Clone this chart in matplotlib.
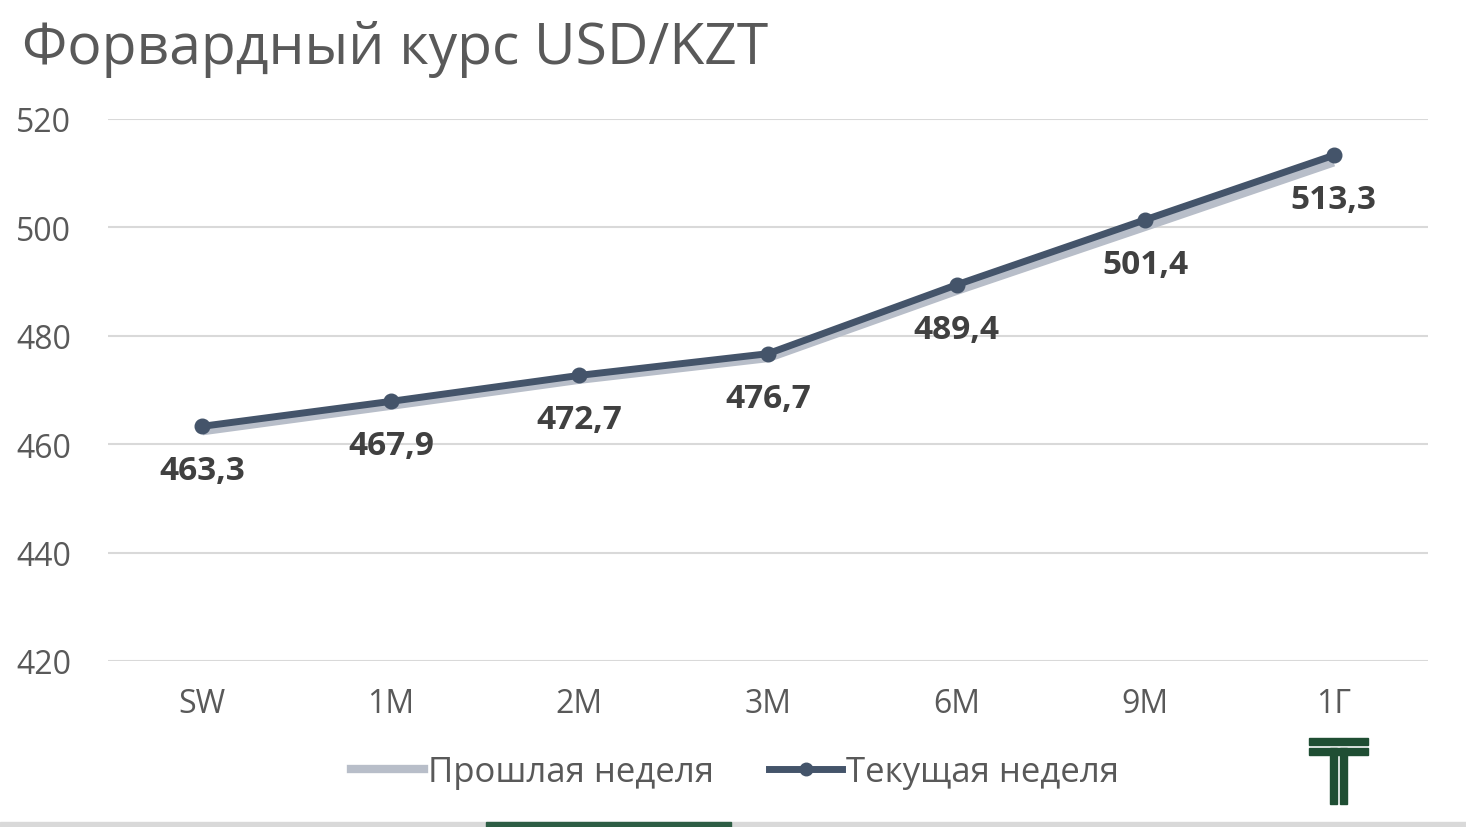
import matplotlib
matplotlib.use('Agg')
import matplotlib.pyplot as plt
from matplotlib.patches import Rectangle
from matplotlib.lines import Line2D
from matplotlib.transforms import ScaledTranslation

# data
tenors = ['SW', '1M', '2M', '3M', '6M', '9M', '1Г']
current_week = [463.3, 467.9, 472.7, 476.7, 489.4, 501.4, 513.3]
previous_week = [462.4, 467.1, 471.9, 475.9, 488.3, 500.1, 512.0]
y_ticks = [420, 440, 460, 480, 500, 520]

DARK = '#44546A'
GREY = '#B8BEC9'
TEXT = '#595959'
LABEL = '#404040'
GREEN = '#1F4E33'

plt.rcParams['font.family'] = ['Open Sans', 'DejaVu Sans']

fig = plt.figure(figsize=(14.66, 8.28), dpi=100)
ax = fig.add_axes([108 / 1466, 1 - 662 / 828, 1320 / 1466, 542 / 828])

x = list(range(len(tenors)))
ax.plot(x, previous_week, color=GREY, linewidth=6, solid_capstyle='butt', zorder=2)
ax.plot(x, current_week, color=DARK, linewidth=5, marker='o', markersize=10.5,
        solid_capstyle='butt', zorder=3)

for xi, v in zip(x, current_week):
    ax.annotate(f'{v:.1f}'.replace('.', ','), (xi, v), xytext=(0, -32),
                textcoords='offset points', ha='center', va='center',
                fontsize=24, fontweight='bold', color=LABEL)

ax.set_xlim(-0.5, len(tenors) - 0.5)
ax.set_ylim(420, 520)
ax.set_yticks(y_ticks)
ax.set_xticks(x)
ax.set_xticklabels(tenors)
ax.grid(axis='y', color='#D9D9D9', linewidth=1.5, zorder=0)
ax.set_axisbelow(True)
for s in ax.spines.values():
    s.set_visible(False)
ax.tick_params(length=0, labelsize=23, labelcolor=TEXT)
ax.tick_params(axis='x', pad=19)
ax.tick_params(axis='y', pad=0)
# left-align the y tick labels near the figure edge
for lab in ax.get_yticklabels():
    lab.set_horizontalalignment('left')
    lab.set_transform(lab.get_transform()
                      + ScaledTranslation(-92 / 100, 0, fig.dpi_scale_trans))

fig.text(22 / 1466, 1 - 49 / 828, 'Форвардный курс USD/KZT', fontsize=41,
         color=TEXT, va='center', ha='left')

handles = [Line2D([], [], color=GREY, linewidth=6),
           Line2D([], [], color=DARK, linewidth=5, marker='o', markersize=9)]
fig.legend(handles, ['Прошлая неделя', 'Текущая неделя'], loc='center',
           bbox_to_anchor=(735 / 1466, 1 - 773 / 828), ncol=2, frameon=False,
           fontsize=25, labelcolor=TEXT, handlelength=2.1, handletextpad=0.1,
           columnspacing=1.6)

# logo
def px_rect(x0, y0, x1, y1, color):
    fig.patches.append(Rectangle((x0 / 1466, 1 - y1 / 828), (x1 - x0) / 1466,
                                 (y1 - y0) / 828, transform=fig.transFigure,
                                 color=color, zorder=5))

px_rect(1309, 739, 1368, 746, GREEN)
px_rect(1309, 749, 1368, 756, GREEN)
px_rect(1330, 749, 1337, 805, GREEN)
px_rect(1340, 749, 1347, 805, GREEN)

# bottom strip
px_rect(0, 823, 1466, 828, '#D9D9D9')
px_rect(486, 823, 731, 828, '#2E5E45')

fig.savefig('out.png', dpi=100)
